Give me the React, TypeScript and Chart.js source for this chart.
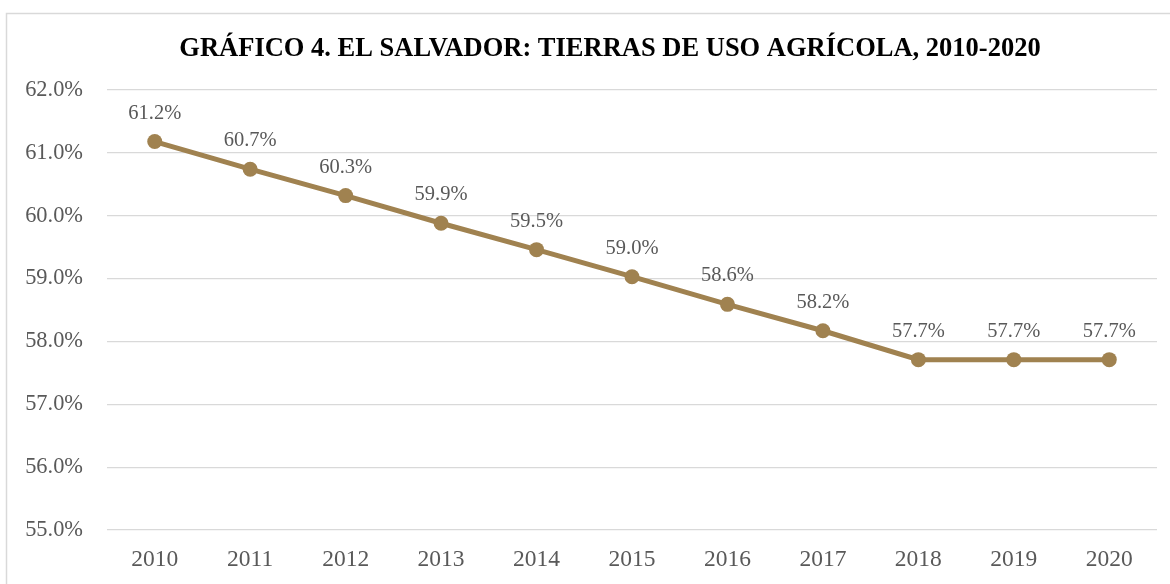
import React, { useEffect, useRef } from "react";
import { Chart, registerables } from "chart.js";

Chart.register(...registerables);

const TITLE = "GRÁFICO 4. EL SALVADOR: TIERRAS DE USO AGRÍCOLA, 2010-2020";
const years = ["2010", "2011", "2012", "2013", "2014", "2015", "2016", "2017", "2018", "2019", "2020"];
const agriLandPct = [61.18, 60.74, 60.32, 59.88, 59.46, 59.03, 58.59, 58.17, 57.71, 57.71, 57.71];
const yMin = 55;
const yMax = 62;
const yStep = 1;

const FONT = "'Liberation Serif', 'Times New Roman', serif";
const LINE_COLOR = "rgb(160,130,80)";
const TEXT_GRAY = "#595959";
const GRID = "#d9d9d9";

const framePlugin = {
  id: "frameAndTitle",
  beforeDraw(chart: any) {
    const ctx = chart.ctx;
    ctx.save();
    ctx.fillStyle = "#ffffff";
    ctx.fillRect(0, 0, chart.width, chart.height);
    ctx.strokeStyle = GRID;
    ctx.lineWidth = 1.5;
    ctx.beginPath();
    ctx.moveTo(6.5, chart.height + 5);
    ctx.lineTo(6.5, 13.5);
    ctx.lineTo(chart.width + 5, 13.5);
    ctx.stroke();
    ctx.fillStyle = "#000000";
    ctx.font = `bold 26.5px ${FONT}`;
    ctx.textAlign = "center";
    ctx.textBaseline = "alphabetic";
    ctx.fillText(TITLE, 610, 56);
    ctx.restore();
  },
  afterDatasetsDraw(chart: any) {
    const ctx = chart.ctx;
    const meta = chart.getDatasetMeta(0);
    const data = chart.data.datasets[0].data as number[];
    ctx.save();
    ctx.fillStyle = TEXT_GRAY;
    ctx.font = `20.5px ${FONT}`;
    ctx.textAlign = "center";
    ctx.textBaseline = "alphabetic";
    meta.data.forEach((pt: any, i: number) => {
      ctx.fillText(data[i].toFixed(1) + "%", pt.x, pt.y - 23);
    });
    ctx.restore();
  },
};

export default function App() {
  const ref = useRef<HTMLCanvasElement | null>(null);
  useEffect(() => {
    document.body.style.margin = "0";
    if (!ref.current) return;
    const chart = new Chart(ref.current, {
      type: "line",
      data: {
        labels: years,
        datasets: [
          {
            data: agriLandPct,
            borderColor: LINE_COLOR,
            backgroundColor: LINE_COLOR,
            borderWidth: 5,
            pointRadius: 7.5,
            pointHoverRadius: 7.5,
            pointBackgroundColor: LINE_COLOR,
            pointBorderWidth: 0,
            tension: 0,
          },
        ],
      },
      options: {
        responsive: false,
        animation: false,
        layout: { padding: { left: 0, right: 13, top: 90, bottom: 0 } },
        plugins: {
          legend: { display: false },
          title: { display: false },
          tooltip: { enabled: false },
        },
        scales: {
          x: {
            offset: true,
            afterFit(scale: any) {
              scale.height = 54;
            },
            grid: { display: false, drawTicks: false },
            border: { display: false },
            ticks: { color: TEXT_GRAY, font: { family: FONT, size: 23.5 }, padding: 16, maxRotation: 0 },
          },
          y: {
            min: yMin,
            max: yMax,
            afterFit(scale: any) {
              scale.width = 107;
            },
            grid: { color: GRID, lineWidth: 1.2, drawTicks: false },
            border: { display: false },
            ticks: {
              stepSize: yStep,
              color: TEXT_GRAY,
              font: { family: FONT, size: 22.4 },
              padding: 24,
              callback: (v: any) => Number(v).toFixed(1) + "%",
            },
          },
        },
      },
      plugins: [framePlugin],
    });
    return () => chart.destroy();
  }, []);
  return (
    <div style={{ position: "absolute", left: 0, top: 0, width: 1170, height: 584, background: "#fff" }}>
      <canvas ref={ref} width={1170} height={584} style={{ display: "block" }} />
    </div>
  );
}
